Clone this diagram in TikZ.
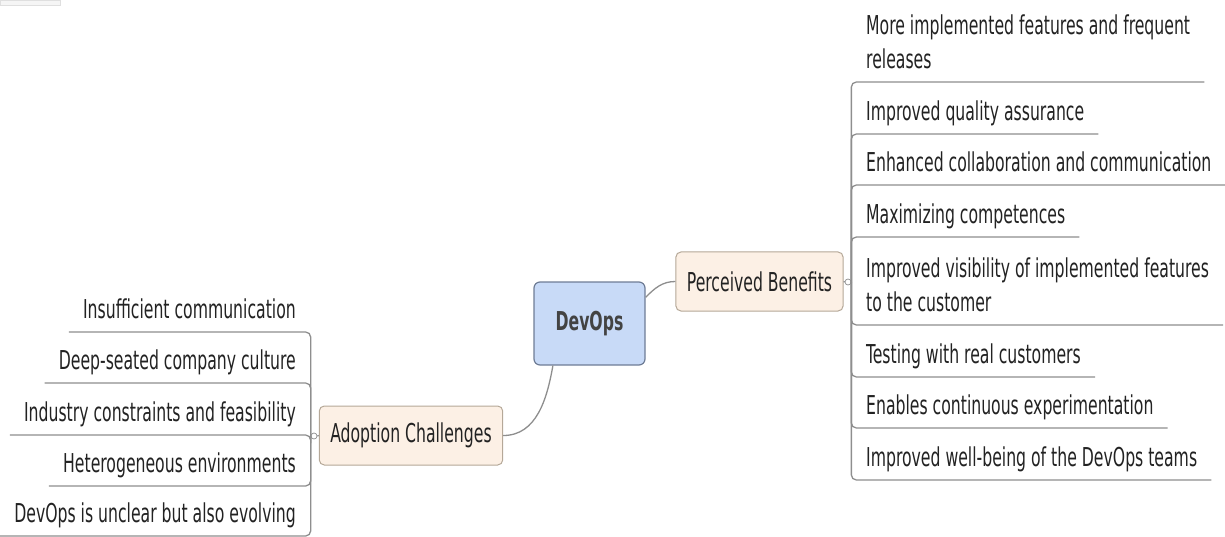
\documentclass[tikz,border=0pt]{standalone}
\usepackage{fontspec}
\setmainfont{DejaVu Sans Condensed}[FakeStretch=0.67]
\definecolor{linegray}{HTML}{8E8E8E}
\definecolor{devfill}{HTML}{C8DAF7}
\definecolor{devborder}{HTML}{6E7C95}
\definecolor{brfill}{HTML}{FCF0E5}
\definecolor{brborder}{HTML}{B5A898}
\definecolor{textdark}{HTML}{222222}
\tikzset{
  central/.style={draw=devborder, fill=devfill, rounded corners=6pt, line width=1.2pt,
    minimum width=111pt, minimum height=83pt, text=textdark!85,
    font=\bfseries\fontsize{26}{32}\selectfont},
  mainbranch/.style={draw=brborder, fill=brfill, rounded corners=5pt, line width=1pt,
    minimum height=59pt, inner xsep=11pt, text=textdark,
    font=\fontsize{26}{32}\selectfont},
  leafright/.style={anchor=south west, inner xsep=14pt, inner ysep=5pt, text depth=8pt,
    align=left, text=textdark, font=\fontsize{26}{34}\selectfont},
  leafleft/.style={anchor=south east, inner xsep=14pt, inner ysep=5pt, text depth=8pt,
    align=right, text=textdark, font=\fontsize{26}{34}\selectfont},
  marker/.style={circle, draw=linegray, fill=white, inner sep=0pt, minimum size=6pt, line width=0.7pt},
  wire/.style={draw=linegray, line width=1.3pt, rounded corners=5pt},
  link/.style={draw=linegray, line width=1.3pt}
}
\begin{document}
\begin{tikzpicture}[x=1pt, y=-1pt]
  \useasboundingbox (0,0) rectangle (1225,537);
  \draw[gray!25, fill=gray!8] (0,0) rectangle (60,5);

  \node[central] (dev) at (589.5,323.5) {DevOps};
  \node[mainbranch] (pb) at (759.5,281.5) {Perceived Benefits};
  \node[mainbranch] (ac) at (411,435.5) {Adoption Challenges};
  \node[marker] (pbm) at (848,282) {};
  \node[marker] (acm) at (314,436) {};

  \draw[link] (dev.25) to[out=45, in=180] (pb.west);
  \draw[link] (dev.229) to[out=-100, in=0] (ac.east);
  \draw[link] (pb.east) -- (pbm.west);
  \draw[link] (ac.west) -- (acm.east);

  \node[leafright] (b1) at (852,82) {More implemented features and frequent\\releases};
  \node[leafright] (b2) at (852,134) {Improved quality assurance};
  \node[leafright] (b3) at (852,185) {Enhanced collaboration and communication};
  \node[leafright] (b4) at (852,237) {Maximizing competences};
  \node[leafright] (b5) at (852,325) {Improved visibility of implemented features\\to the customer};
  \node[leafright] (b6) at (852,377) {Testing with real customers};
  \node[leafright] (b7) at (852,428) {Enables continuous experimentation};
  \node[leafright] (b8) at (852,480) {Improved well-being of the DevOps teams};

  \draw[wire] (pbm.east) |- (b1.south east);
  \draw[wire] (pbm.east) |- (b2.south east);
  \draw[wire] (pbm.east) |- (b3.south east);
  \draw[wire] (pbm.east) |- (b4.south east);
  \draw[wire] (pbm.east) |- (b5.south east);
  \draw[wire] (pbm.east) |- (b6.south east);
  \draw[wire] (pbm.east) |- (b7.south east);
  \draw[wire] (pbm.east) |- (b8.south east);

  \node[leafleft] (c1) at (310,332) {Insufficient communication};
  \node[leafleft] (c2) at (310,383) {Deep-seated company culture};
  \node[leafleft] (c3) at (310,435) {Industry constraints and feasibility};
  \node[leafleft] (c4) at (310,486) {Heterogeneous environments};
  \node[leafleft] (c5) at (310,536) {DevOps is unclear but also evolving};

  \draw[wire] (acm.west) |- (c1.south west);
  \draw[wire] (acm.west) |- (c2.south west);
  \draw[wire] (acm.west) |- (c3.south west);
  \draw[wire] (acm.west) |- (c4.south west);
  \draw[wire] (acm.west) |- (c5.south west);
\end{tikzpicture}
\end{document}
